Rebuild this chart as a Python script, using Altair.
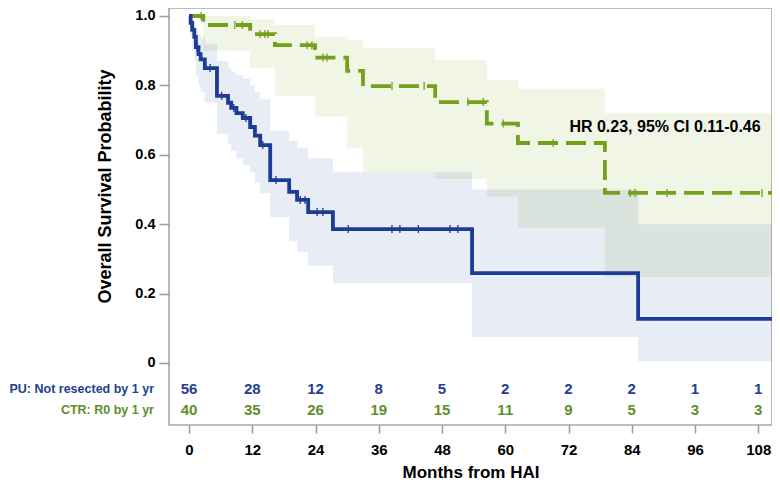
import altair as alt
import pandas as pd

FONT = "Liberation Sans"
BLUE = "#1d3c93"
GREEN = "#74a11b"
BLUE_TXT = "#23418f"
GREEN_TXT = "#5e8f2c"

# ---- Kaplan-Meier: PU (not resected by 1 yr) ----
blue_t = [0, 0.3, 0.6, 1.0, 1.3, 1.8, 2.2, 3.0, 5.3, 7.4, 8.0, 9.0, 10.2, 11.6, 12.5, 13.5,
          15.4, 19.0, 20.5, 22.6, 27.3, 53.7, 85.2, 111.6]
blue_s = [1.0, 0.98, 0.96, 0.94, 0.91, 0.89, 0.875, 0.85, 0.77, 0.75, 0.735, 0.72, 0.706, 0.68,
          0.655, 0.628, 0.527, 0.493, 0.47, 0.435, 0.386, 0.259, 0.127, 0.127]
blue_lo = [1.0, 0.94, 0.90, 0.87, 0.83, 0.80, 0.78, 0.75, 0.66, 0.63, 0.61, 0.59, 0.57, 0.55,
           0.52, 0.49, 0.42, 0.35, 0.32, 0.28, 0.23, 0.075, 0.005, 0.005]
blue_hi = [1.0, 1.0, 0.99, 0.98, 0.96, 0.95, 0.94, 0.92, 0.87, 0.85, 0.84, 0.83, 0.82, 0.80,
           0.78, 0.76, 0.67, 0.64, 0.62, 0.59, 0.55, 0.50, 0.40, 0.40]
blue_cens_t = [1.5, 4.0, 6.2, 8.5, 10.8, 14.0, 16.5, 21.1, 22.0, 24.3, 25.4, 30.2, 38.5, 40.0,
               43.5, 49.5, 51.0]
blue_cens_s = [0.91, 0.85, 0.77, 0.735, 0.706, 0.628, 0.527, 0.47, 0.47, 0.435, 0.435, 0.386,
               0.386, 0.386, 0.386, 0.386, 0.386]

# ---- Kaplan-Meier: CTR (R0 by 1 yr) ----
green_t = [0, 2.7, 11.6, 16.3, 23.9, 30.0, 33.0, 46.7, 56.5, 62.4, 78.9, 111.6]
green_s = [1.0, 0.974, 0.948, 0.916, 0.88, 0.842, 0.798, 0.752, 0.69, 0.634, 0.49, 0.49]
green_lo = [1.0, 0.90, 0.85, 0.77, 0.71, 0.62, 0.55, 0.53, 0.48, 0.39, 0.248, 0.248]
green_hi = [1.0, 1.0, 0.99, 0.974, 0.94, 0.93, 0.907, 0.873, 0.815, 0.79, 0.72, 0.72]
green_cens_t = [2.3, 8.7, 10.1, 13.5, 14.4, 15.0, 22.4, 23.3, 25.4, 26.2, 38.5, 44.6, 52.9,
                55.8, 59.6, 69.1, 83.7, 84.6, 90.7, 108.7]
green_cens_s = [1.0, 0.974, 0.974, 0.948, 0.948, 0.948, 0.916, 0.916, 0.88, 0.88, 0.798, 0.798,
                0.752, 0.752, 0.69, 0.634, 0.49, 0.49, 0.49, 0.49]

# ---- Number at risk ----
months = [0, 12, 24, 36, 48, 60, 72, 84, 96, 108]
pu_risk = [56, 28, 12, 8, 5, 2, 2, 2, 1, 1]
ctr_risk = [40, 35, 26, 19, 15, 11, 9, 5, 3, 3]

hr_text = "HR 0.23, 95% CI 0.11-0.46"
row_labels = ["PU: Not resected by 1 yr", "CTR: R0 by 1 yr"]

blue_df = pd.DataFrame({"t": blue_t, "s": blue_s, "lo": blue_lo, "hi": blue_hi})
green_df = pd.DataFrame({"t": green_t, "s": green_s, "lo": green_lo, "hi": green_hi})
blue_c = pd.DataFrame({"t": blue_cens_t, "s": blue_cens_s})
green_c = pd.DataFrame({"t": green_cens_t, "s": green_cens_s})
risk_df = pd.DataFrame({"t": months, "pu": pu_risk, "ctr": ctr_risk})

x_scale = alt.Scale(domain=[-3.8, 110.6], nice=False, zero=False)
y_scale = alt.Scale(domain=[-0.1787, 1.023], nice=False, zero=False)

x_axis = alt.Axis(values=months, title="Months from HAI", grid=False, domain=False,
                  tickSize=8, tickColor="#9a9a9a", tickWidth=1.5,
                  labelFont=FONT, labelFontSize=15, labelFontWeight="bold", labelColor="black",
                  labelPadding=9, titleFont=FONT, titleFontSize=17, titleFontWeight="bold",
                  titleColor="black", titlePadding=7)
y_axis = alt.Axis(values=[0, 0.2, 0.4, 0.6, 0.8, 1.0], title="Overall Survival Probability",
                  grid=False, domain=False, tickSize=10, tickColor="#9a9a9a", tickWidth=1.5,
                  labelExpr="datum.value == 0 ? '0' : format(datum.value, '.1f')",
                  labelFont=FONT, labelFontSize=14.5, labelFontWeight="bold", labelColor="black",
                  labelPadding=4, titleFont=FONT, titleFontSize=18, titleFontWeight="bold",
                  titleColor="black", titleX=-64, titleY=178, titleAlign="center",
                  titleBaseline="middle")


def X(field="t"):
    return alt.X(f"{field}:Q", scale=x_scale, axis=x_axis)


def Y(field):
    return alt.Y(f"{field}:Q", scale=y_scale, axis=y_axis)


band_g = alt.Chart(green_df).mark_area(interpolate="step-after", color=GREEN, opacity=0.11,
                                       clip=True).encode(x=X(), y=Y("lo"), y2="hi:Q")
band_b = alt.Chart(blue_df).mark_area(interpolate="step-after", color="#2040a0", opacity=0.1,
                                      clip=True).encode(x=X(), y=Y("lo"), y2="hi:Q")
line_g = alt.Chart(green_df).mark_line(interpolate="step-after", color=GREEN, strokeWidth=3.8,
                                       strokeDash=[20, 8], clip=True).encode(x=X(), y=Y("s"))
line_b = alt.Chart(blue_df).mark_line(interpolate="step-after", color=BLUE, strokeWidth=3.8,
                                      clip=True).encode(x=X(), y=Y("s"))
cens_g = alt.Chart(green_c).mark_point(shape="M0,-1L0,1", size=64, color=GREEN, strokeWidth=1.3,
                                       filled=False, opacity=1).encode(x=X(), y=Y("s"))
cens_b = alt.Chart(blue_c).mark_point(shape="M0,-1L0,1", size=64, color=BLUE, strokeWidth=1.3,
                                      filled=False, opacity=1).encode(x=X(), y=Y("s"))

risk_pu = alt.Chart(risk_df).mark_text(font=FONT, fontSize=15, fontWeight="bold", color=BLUE_TXT,
                                       baseline="middle").encode(
    x=X(), y=alt.value(381), text="pu:Q")
risk_ctr = alt.Chart(risk_df).mark_text(font=FONT, fontSize=15, fontWeight="bold", color=GREEN_TXT,
                                        baseline="middle").encode(
    x=X(), y=alt.value(402), text="ctr:Q")

lab_df = pd.DataFrame({"label": row_labels, "grp": ["PU", "CTR"]})
lab_pu = alt.Chart(lab_df).transform_filter("datum.grp == 'PU'").mark_text(
    font=FONT, fontSize=12.5, fontWeight="bold", color=BLUE_TXT, align="right", baseline="middle").encode(
    x=alt.value(-15), y=alt.value(381), text="label:N")
lab_ctr = alt.Chart(lab_df).transform_filter("datum.grp == 'CTR'").mark_text(
    font=FONT, fontSize=12.5, fontWeight="bold", color=GREEN_TXT, align="right", baseline="middle").encode(
    x=alt.value(-15), y=alt.value(402), text="label:N")

hr_df = pd.DataFrame({"label": [hr_text]})
hr = alt.Chart(hr_df).mark_text(font=FONT, fontSize=16, fontWeight="bold", color="black",
                                align="center", baseline="middle").encode(
    x=alt.value(496), y=alt.value(119), text="label:N")

chart = alt.layer(band_g, band_b, line_g, line_b, cens_g, cens_b, risk_pu, risk_ctr,
                  lab_pu, lab_ctr, hr).properties(
    width=603, height=417,
    autosize=alt.AutoSizeParams(type="none"),
    padding={"left": 161, "top": 0, "right": 0, "bottom": 55},
    background="white",
).configure_view(stroke="#a8a8a8", strokeWidth=1.6)

chart.save("out.html", embed_options={"renderer": "svg", "actions": False})
